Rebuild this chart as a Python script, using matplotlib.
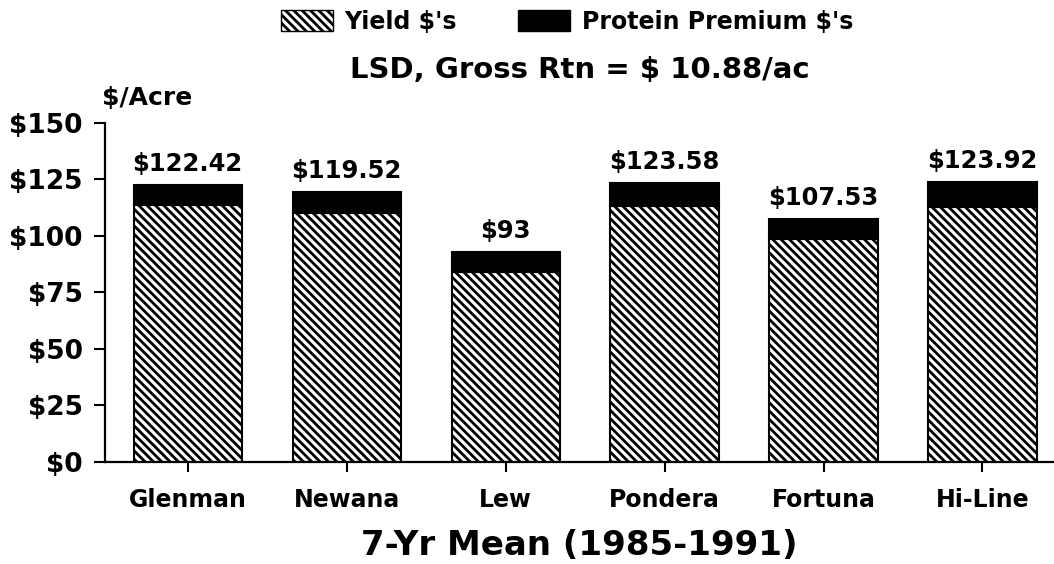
import matplotlib
matplotlib.use("Agg")
import matplotlib.pyplot as plt
from matplotlib.patches import Patch

# values ($/acre, 7-yr mean)
varieties = ["Glenman", "Newana", "Lew", "Pondera", "Fortuna", "Hi-Line"]
yield_dollars = [113.5, 110.0, 84.0, 113.3, 98.5, 113.0]
protein_dollars = [8.92, 9.52, 9.0, 10.28, 9.03, 10.92]
total_labels = ["$122.42", "$119.52", "$93", "$123.58", "$107.53", "$123.92"]
yticks = [0, 25, 50, 75, 100, 125, 150]

plt.rcParams["font.family"] = ["DejaVu Sans"]
plt.rcParams["font.weight"] = "bold"
plt.rcParams["hatch.linewidth"] = 2.0

fig = plt.figure(figsize=(10.54, 5.64), dpi=100)
ax = fig.add_axes([0.0996, 0.181, 0.9004, 0.601])

hatch = "\\" * 4
x = range(len(varieties))
w = 0.68
ax.bar(x, yield_dollars, width=w, color="white", edgecolor="black",
       hatch=hatch, linewidth=1.5)
ax.bar(x, protein_dollars, width=w, bottom=yield_dollars, color="black",
       edgecolor="black", linewidth=1.5)

for i, lab in enumerate(total_labels):
    top = yield_dollars[i] + protein_dollars[i]
    ax.text(i, top + 4, lab.replace("$", r"\$"), ha="center", va="bottom",
            fontsize=17.5, fontweight="bold")

ax.set_xlim(-0.52, 5.45)
ax.set_ylim(0, 150)
ax.set_yticks(yticks)
ax.set_yticklabels([r"\$%d" % v for v in yticks], fontsize=19, fontweight="bold")
ax.set_xticks(list(x))
ax.set_xticklabels(varieties, fontsize=17, fontweight="bold")

for s in ["top", "right"]:
    ax.spines[s].set_visible(False)
for s in ["left", "bottom"]:
    ax.spines[s].set_linewidth(1.6)
ax.tick_params(axis="y", direction="out", length=8, width=1.5, pad=8)
ax.tick_params(axis="x", direction="out", length=7, width=1.5, pad=12)

ax.set_xlabel("7-Yr Mean (1985-1991)", fontsize=24.5, fontweight="bold", labelpad=12)

fig.text(0.097, 0.826, r"\$/Acre", fontsize=18, fontweight="bold", va="center")
fig.text(0.550, 0.876, r"LSD, Gross Rtn = \$ 10.88/ac", fontsize=21,
         fontweight="bold", ha="center", va="center")

handles = [Patch(facecolor="white", edgecolor="black", hatch=hatch, label=r"Yield \$'s"),
           Patch(facecolor="black", edgecolor="black", label=r"Protein Premium \$'s")]
fig.legend(handles=handles, loc="center", bbox_to_anchor=(0.538, 0.961), ncol=2,
           frameon=False, fontsize=17, handlelength=2.2, handleheight=1.0,
           columnspacing=2.6, handletextpad=0.5, borderpad=0)

fig.savefig("out.png", dpi=100)
